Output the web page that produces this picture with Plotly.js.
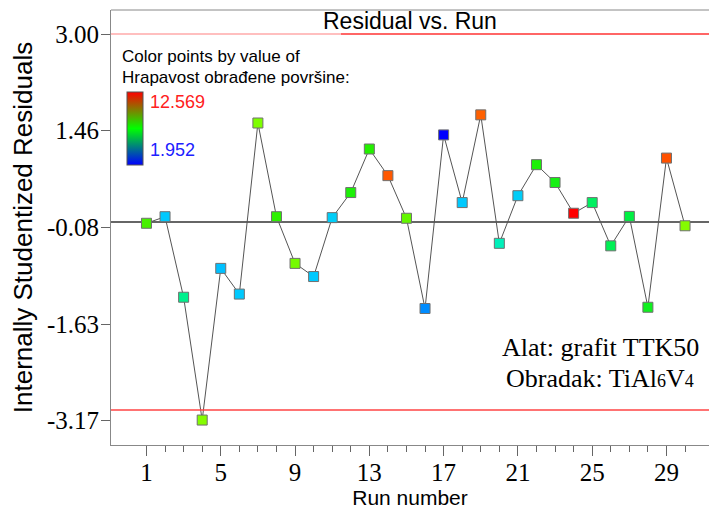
<!DOCTYPE html>
<html>
<head>
<meta charset="utf-8">
<script src="https://cdn.plot.ly/plotly-3.0.1.min.js"></script>
<style>html,body{margin:0;padding:0;background:#fff;}#chart{width:710px;height:515px;}</style>
</head>
<body>
<div id="chart"></div>
<script>
// ---- data ----
var runs = [1,2,3,4,5,6,7,8,9,10,11,12,13,14,15,16,17,18,19,20,21,22,23,24,25,26,27,28,29,30];
var residuals = [-0.02, 0.085, -1.20, -3.16, -0.74, -1.15, 1.58, 0.085, -0.66, -0.87,
                 0.07, 0.47, 1.165, 0.74, 0.06, -1.38, 1.39, 0.31, 1.71, -0.34,
                 0.42, 0.915, 0.63, 0.14, 0.31, -0.38, 0.09, -1.36, 1.02, -0.06];
var roughness = [7.7, 4.1, 5.7, 8.4, 4.0, 4.1, 8.3, 7.4, 8.2, 4.1,
                 4.2, 7.2, 7.3, 11.4, 8.0, 3.5, 1.952, 4.1, 11.3, 5.2,
                 4.2, 7.2, 7.1, 12.569, 6.2, 6.4, 6.7, 7.0, 11.5, 8.4];
var colorMin = 1.952, colorMax = 12.569;
var xTickVals = [1,5,9,13,17,21,25,29];
var yTickVals = [3.00, 1.4575, -0.085, -1.6275, -3.17];
var yTickText = ['3.00','1.46','-0.08','-1.63','-3.17'];
var limitHi = 3.0, limitLo = -3.0;

// ---- layout helpers ----
var W = 710, H = 515, L = 111, R = 1, T = 10, B = 70;
var pw = W - L - R, ph = H - T - B;
function px(x){ return (x - L) / pw; }
function py(y){ return (H - B - y) / ph; }

var pointScale = [
  [0.00,'#0000ff'],[0.15,'#0090ff'],[0.20,'#00c8ff'],[0.30,'#00f0c0'],
  [0.35,'#00f090'],[0.40,'#00f060'],[0.45,'#00f040'],[0.50,'#20f000'],
  [0.55,'#50f000'],[0.60,'#80ff00'],[0.80,'#ffa000'],[0.90,'#ff5000'],[1.00,'#ff0000']
];
var barScale = [[0,'#0000ff'],[0.5,'#00ff00'],[1,'#ff0000']];

var traces = [
  {
    x: runs, y: residuals, type: 'scatter', mode: 'lines+markers',
    line: {color: '#555555', width: 1},
    marker: {symbol: 'square', size: 10, color: roughness, cmin: colorMin, cmax: colorMax,
             colorscale: pointScale, showscale: false, line: {color: '#707070', width: 1}},
    hoverinfo: 'x+y', showlegend: false
  },
  {
    x: [null], y: [null], type: 'scatter', mode: 'markers', showlegend: false, hoverinfo: 'skip',
    marker: {color: [colorMin], cmin: colorMin, cmax: colorMax, colorscale: barScale, showscale: true,
      colorbar: {x: px(127), xanchor: 'left', y: py(128.5), yanchor: 'middle',
                 len: 73, lenmode: 'pixels', thickness: 16, thicknessmode: 'pixels',
                 outlinewidth: 1, outlinecolor: '#555', showticklabels: false, ticks: '',
                 xpad: 0, ypad: 0, borderwidth: 0}}
  }
];

var serif = 'Liberation Serif, Times New Roman, serif';
var sans = 'Liberation Sans, Arial, sans-serif';

var layout = {
  width: W, height: H,
  margin: {l: L, r: R, t: T, b: B, pad: 0},
  paper_bgcolor: '#ffffff', plot_bgcolor: '#ffffff',
  showlegend: false,
  xaxis: {
    range: [-0.91, 31.29], tickmode: 'array', tickvals: xTickVals,
    ticks: 'outside', ticklen: 10, tickcolor: '#666', tickwidth: 1, ticklabelstandoff: -5,
    tickfont: {family: serif, size: 25, color: '#000'},
    showgrid: false, zeroline: false, showline: true, linecolor: '#888', linewidth: 1,
    minor: {tickmode: 'array', tickvals: runs, ticks: 'outside', ticklen: 6, tickcolor: '#666', showgrid: false},
    title: {text: 'Run number', font: {family: sans, size: 21, color: '#000'}, standoff: 0}
  },
  yaxis: {
    range: [-3.558, 3.383], tickmode: 'array', tickvals: yTickVals, ticktext: yTickText,
    ticks: 'outside', ticklen: 9, tickcolor: '#666', tickwidth: 1, ticklabelstandoff: -3,
    tickfont: {family: serif, size: 25, color: '#000'},
    showgrid: false, zeroline: false, showline: true, linecolor: '#888', linewidth: 1,
    title: {text: 'Internally Studentized Residuals', font: {family: sans, size: 26, color: '#000'}, standoff: 6}
  },
  shapes: [
    {type: 'line', xref: 'paper', yref: 'paper', x0: 0, x1: 1, y0: 1, y1: 1, line: {color: '#888', width: 1}},
    {type: 'line', xref: 'paper', yref: 'y', x0: 0, x1: px(341), y0: limitHi, y1: limitHi, line: {color: '#ffaaaa', width: 1.5}},
    {type: 'line', xref: 'paper', yref: 'y', x0: px(341), x1: 1, y0: limitHi, y1: limitHi, line: {color: '#ff3333', width: 1.5}},
    {type: 'line', xref: 'paper', yref: 'y', x0: 0, x1: 1, y0: limitLo, y1: limitLo, line: {color: '#ff4444', width: 1.5}},
    {type: 'line', xref: 'paper', yref: 'y', x0: 0, x1: 1, y0: 0, y1: 0, line: {color: '#333333', width: 1.5}, layer: 'below'}
  ],
  annotations: [
    {text: 'Residual vs. Run', xref: 'paper', yref: 'paper', x: 0.5, y: py(21), xanchor: 'center', yanchor: 'middle',
     showarrow: false, font: {family: sans, size: 23, color: '#000'}},
    {text: 'Color points by value of', xref: 'paper', yref: 'paper', x: px(120), y: py(56), xanchor: 'left', yanchor: 'middle',
     showarrow: false, font: {family: sans, size: 17, color: '#000'}},
    {text: 'Hrapavost obrađene površine:', xref: 'paper', yref: 'paper', x: px(120), y: py(77), xanchor: 'left', yanchor: 'middle',
     showarrow: false, font: {family: sans, size: 17, color: '#000'}},
    {text: '12.569', xref: 'paper', yref: 'paper', x: px(148), y: py(102), xanchor: 'left', yanchor: 'middle',
     showarrow: false, font: {family: sans, size: 18, color: '#ff2020'}},
    {text: '1.952', xref: 'paper', yref: 'paper', x: px(148), y: py(149.5), xanchor: 'left', yanchor: 'middle',
     showarrow: false, font: {family: sans, size: 18, color: '#2020ff'}},
    {text: 'Alat: grafit TTK50', xref: 'paper', yref: 'paper', x: px(600), y: py(347), xanchor: 'center', yanchor: 'middle',
     showarrow: false, font: {family: serif, size: 26, color: '#000'}},
    {text: 'Obradak: TiAl<span style="font-size:18px">6</span>V<span style="font-size:18px">4</span>', xref: 'paper', yref: 'paper', x: px(600), y: py(378), xanchor: 'center', yanchor: 'middle',
     showarrow: false, font: {family: serif, size: 26, color: '#000'}}
  ]
};

Plotly.newPlot('chart', traces, layout, {displayModeBar: false, staticPlot: true});
</script>
</body>
</html>
